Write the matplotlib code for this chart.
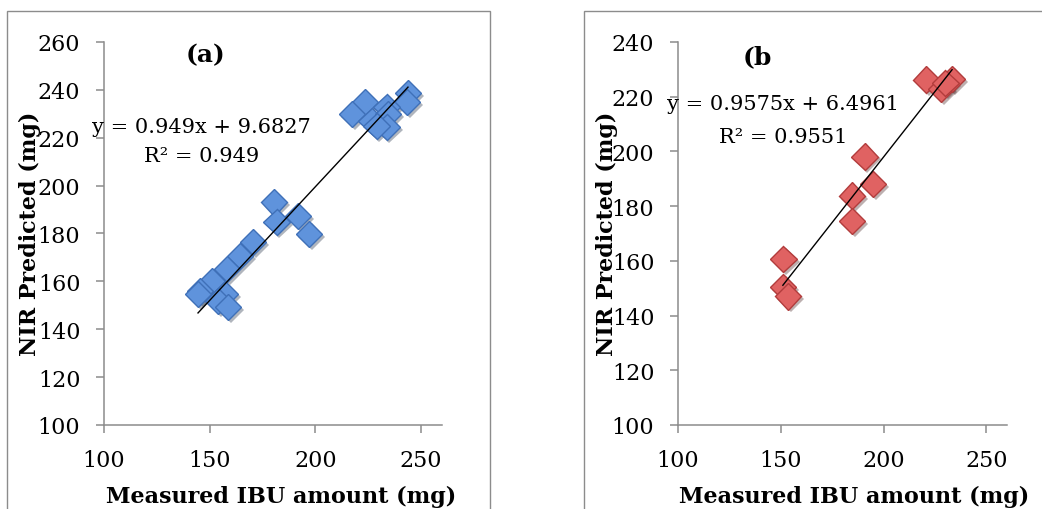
import numpy as np
import matplotlib
matplotlib.use('Agg')
import matplotlib.pyplot as plt
import matplotlib.patheffects as pe
from matplotlib.patches import Rectangle

# panel (a) data
a_measured = [243.9, 243.4, 223.5, 217.3, 226.7, 233.8, 234.5, 233.8, 229.0,
              180.5, 181.7, 191.8, 197.0, 170.5, 164.4, 158.2, 151.1, 145.4,
              144.5, 157.3, 154.0, 158.7]
a_predicted = [238.7, 234.9, 234.9, 229.9, 227.0, 232.8, 230.0, 224.5, 225.0,
               193.0, 184.8, 187.3, 179.8, 176.4, 170.6, 165.2, 160.2, 156.0,
               154.7, 154.7, 151.8, 149.2]
a_slope, a_icpt, a_r2 = 0.949, 9.6827, 0.949

# panel (b)
b_measured = [220.8, 228.0, 233.3, 230.0, 190.8, 194.8, 184.6, 184.6, 151.3, 151.0, 153.4]
b_predicted = [226.2, 222.8, 226.5, 225.0, 198.1, 188.1, 183.8, 174.5, 160.7, 150.5, 147.0]
b_slope, b_icpt, b_r2 = 0.9575, 6.4961, 0.9551

x_ticks = [100, 150, 200, 250]
a_yticks = list(range(100, 261, 20))
b_yticks = list(range(100, 241, 20))

grey = '#8c8c8c'
serif = 'DejaVu Serif'

fig = plt.figure(figsize=(10.42, 5.10), dpi=100)

# chart area borders
fig.patches.append(Rectangle((7/1042, -0.1), (490-7)/1042, 1.1 - 12/510,
                             transform=fig.transFigure, fill=False, ec=grey, lw=1))
fig.patches.append(Rectangle((584/1042, -0.1), 0.5, 1.1 - 12/510,
                             transform=fig.transFigure, fill=False, ec=grey, lw=1))


def panel(rect, xs, ys, yticks, slope, icpt, r2, face, edge, tag, tagpos, eqpos, r2pos):
    ax = fig.add_axes(rect)
    shadow = [pe.SimplePatchShadow(offset=(2, -2), alpha=0.35), pe.Normal()]
    ax.plot(xs, ys, 'D', ms=13.5, mfc=face, mec=edge, mew=1.0,
            path_effects=shadow, zorder=3)
    lx = np.array([min(xs), max(xs)])
    ax.plot(lx, slope * lx + icpt, color='black', lw=1.0, zorder=4)
    ax.set_xlim(100, 260)
    ax.set_ylim(yticks[0], yticks[-1])
    ax.set_xticks(x_ticks)
    ax.set_yticks(yticks)
    for s in ['top', 'right']:
        ax.spines[s].set_visible(False)
    for s in ['left', 'bottom']:
        ax.spines[s].set_color(grey)
        ax.spines[s].set_linewidth(1.1)
    ax.tick_params(direction='out', length=6, width=1.1, color=grey, pad=11,
                   labelsize=16)
    for lab in ax.get_xticklabels() + ax.get_yticklabels():
        lab.set_family(serif)
    ax.text(eqpos[0], eqpos[1], 'y = %sx + %s' % (slope, icpt), family=serif,
            fontsize=15, ha='center', va='center', zorder=5)
    ax.text(r2pos[0], r2pos[1], 'R² = %s' % r2, family=serif,
            fontsize=15, ha='center', va='center', zorder=5)
    fig.text(tagpos[0] / 1042, 1 - tagpos[1] / 510, tag, family=serif,
             fontweight='bold', fontsize=18, ha='center', va='center')
    return ax


panel([104/1042, 1 - 426/510, 338/1042, 383/510], a_measured, a_predicted, a_yticks,
      a_slope, a_icpt, a_r2, '#5f93dc', '#3f70b8', '(a)', (205, 55),
      (145.9, 224.9), (146.1, 212.4))
panel([678/1042, 1 - 426/510, 329/1042, 383/510], b_measured, b_predicted, b_yticks,
      b_slope, b_icpt, b_r2, '#e06262', '#b23c3c', '(b', (757, 57),
      (150.9, 217.7), (151.4, 205.6))

for cx in [30, 607]:
    fig.text(cx / 1042, 1 - 234 / 510, 'NIR Predicted (mg)', family=serif,
             fontweight='bold', fontsize=16, rotation=90, ha='center', va='center')
for cx in [281, 854]:
    fig.text(cx / 1042, 1 - 497 / 510, 'Measured IBU amount (mg)', family=serif,
             fontweight='bold', fontsize=16, ha='center', va='center')

fig.savefig('out.png', dpi=100)
